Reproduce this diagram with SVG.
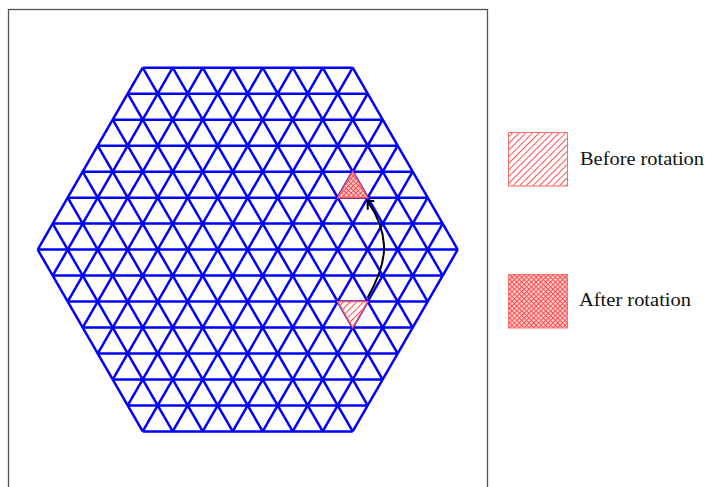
<svg xmlns="http://www.w3.org/2000/svg" width="708" height="487" viewBox="0 0 708 487">
  <style>
    .grid { fill: none; stroke: #0000ff; stroke-width: 2.5; stroke-linecap: butt; }
    .tri { stroke: #ff5a5a; stroke-width: 1.5; stroke-linejoin: miter; }
    .key { stroke: #ff6a6a; stroke-width: 1; }
    .label { font-family: "Liberation Serif", "Times New Roman", serif; font-size: 18px; fill: #111; }
    .conn { fill: none; stroke: #000; stroke-width: 2; stroke-linecap: round; stroke-linejoin: miter; }
  </style>
  <defs>
    <pattern id="hatch" patternUnits="userSpaceOnUse" width="4.7" height="4.7" patternTransform="rotate(45)">
      <rect width="4.7" height="4.7" fill="#fff"/>
      <line x1="0.5" y1="0" x2="0.5" y2="4.7" stroke="#ff5050" stroke-width="1"/>
    </pattern>
    <pattern id="cross" patternUnits="userSpaceOnUse" width="3.4" height="3.4" patternTransform="rotate(45)">
      <rect width="3.4" height="3.4" fill="#ffd6d6"/>
      <line x1="0.5" y1="0" x2="0.5" y2="3.4" stroke="#ff4a4a" stroke-width="1"/>
      <line x1="0" y1="0.5" x2="3.4" y2="0.5" stroke="#ff4a4a" stroke-width="1"/>
    </pattern>
    <path id="hlines" d="M-105,-181.87H105 M-120,-155.88H120 M-135,-129.9H135 M-150,-103.92H150 M-165,-77.94H165 M-180,-51.96H180 M-195,-25.98H195 M-210,0H210 M-195,25.98H195 M-180,51.96H180 M-165,77.94H165 M-150,103.92H150 M-135,129.9H135 M-120,155.88H120 M-105,181.87H105"/>
  </defs>

  <rect id="frame" x="8.5" y="9.5" width="479" height="490" fill="#fff" stroke="#555" stroke-width="1.3"/>

  <g id="lattice" class="grid" transform="translate(247.7,249.6)">
    <use href="#hlines"/>
    <use href="#hlines" transform="rotate(60)"/>
    <use href="#hlines" transform="rotate(120)"/>
  </g>

  <g id="triangle-after">
    <polygon class="tri" points="352.7,171.66 367.7,197.64 337.7,197.64" fill="url(#cross)"/>
  </g>
  <g id="triangle-before">
    <polygon class="tri" points="337.7,301.56 367.7,301.56 352.7,327.54" fill="url(#hatch)"/>
  </g>

  <g id="connectors">
    <path class="conn" d="M368,297 C377,281 385,263 384,245 C383,228 375,212 368,202"/>
    <polyline class="conn" points="373.5,201 367.5,201 367.8,209"/>
  </g>

  <g id="legend-before">
    <rect class="key" x="508.5" y="132.5" width="59" height="53.5" fill="url(#hatch)"/>
    <text class="label" x="580" y="165" textLength="124" lengthAdjust="spacingAndGlyphs">Before rotation</text>
  </g>
  <g id="legend-after">
    <rect class="key" x="508.5" y="274.5" width="59" height="53.5" fill="url(#cross)"/>
    <text class="label" x="579" y="306" textLength="112" lengthAdjust="spacingAndGlyphs">After rotation</text>
  </g>
</svg>
